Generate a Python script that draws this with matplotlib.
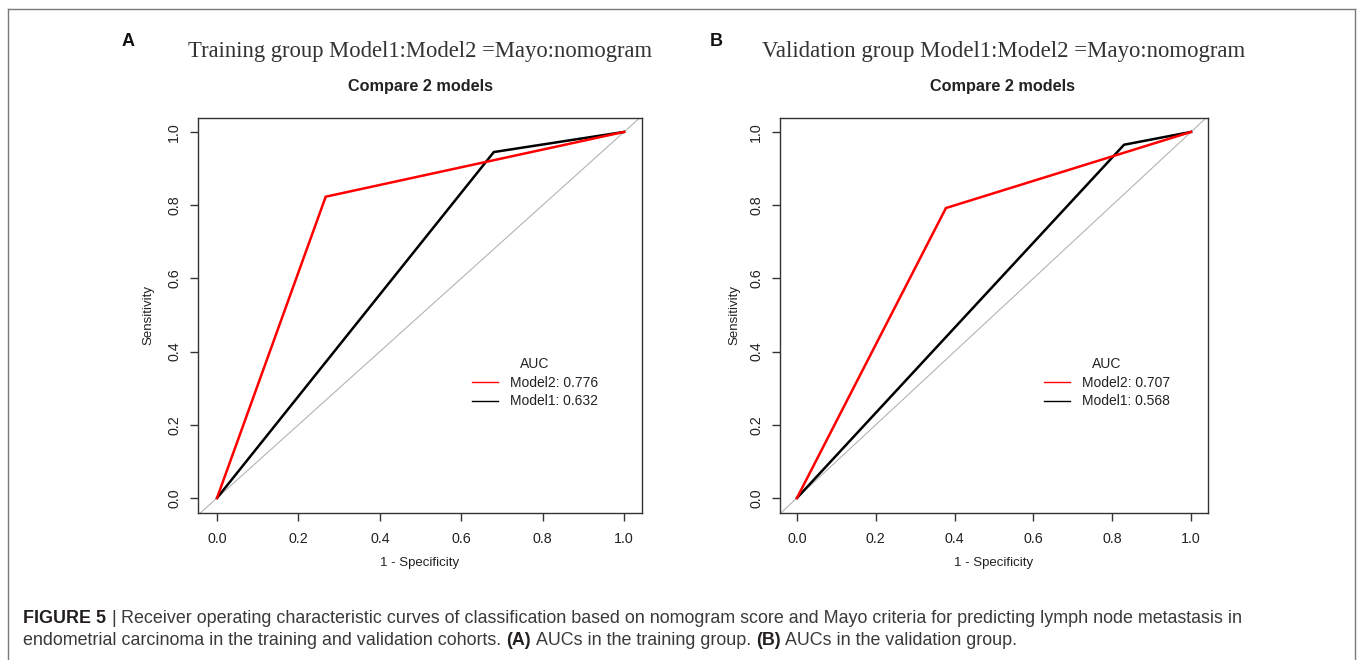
import matplotlib
matplotlib.use('Agg')
import matplotlib.pyplot as plt
from matplotlib.lines import Line2D

# ---------------- data ----------------
panel_letters = ['A', 'B']
titles = ['Training group Model1:Model2 =Mayo:nomogram',
          'Validation group Model1:Model2 =Mayo:nomogram']
subtitle = 'Compare 2 models'
model_names = ['Model2', 'Model1']
model_colors = ['#ff0000', '#000000']

train_model2_x = [0.0, 0.267, 1.0]
train_model2_y = [0.0, 0.823, 1.0]
train_model1_x = [0.0, 0.680, 1.0]
train_model1_y = [0.0, 0.945, 1.0]

valid_model2_x = [0.0, 0.378, 1.0]
valid_model2_y = [0.0, 0.792, 1.0]
valid_model1_x = [0.0, 0.830, 1.0]
valid_model1_y = [0.0, 0.965, 1.0]

auc_train = [0.776, 0.632]
auc_valid = [0.707, 0.568]

ticks = [0.0, 0.2, 0.4, 0.6, 0.8, 1.0]
tick_labels = ['0.0', '0.2', '0.4', '0.6', '0.8', '1.0']
xlabel = '1 - Specificity'
ylabel = 'Sensitivity'

caption_line1 = [('FIGURE 5', 'bold'), ('|', 'normal'),
                 ('Receiver operating characteristic curves of classification based on nomogram score and Mayo criteria for predicting lymph node metastasis in', 'normal')]
caption_line2 = [('endometrial carcinoma in the training and validation cohorts.', 'normal'),
                 ('(A)', 'bold'), ('AUCs in the training group.', 'normal'),
                 ('(B)', 'bold'), ('AUCs in the validation group.', 'normal')]

# ---------------- figure ----------------
W, H = 1357, 660
fig = plt.figure(figsize=(W / 100, H / 100), dpi=100)
plt.rcParams['font.family'] = ['Liberation Sans', 'DejaVu Sans']
TXT = '#222222'

def fx(px):
    return px / W

def fy(py):
    return 1 - py / H

# outer border
for (x0, y0, x1, y1) in [(8, 9, 1355, 9), (8, 9, 8, 660), (1355, 9, 1355, 660)]:
    fig.add_artist(Line2D([fx(x0), fx(x1)], [fy(y0), fy(y1)], color='#7a7a7a', lw=1.0,
                          transform=fig.transFigure))

panels = [
    dict(rect=(198, 118, 642, 513), xlim=(-0.0467, 1.044),
         curves=[(train_model2_x, train_model2_y), (train_model1_x, train_model1_y)],
         aucs=auc_train, title_x=420, sub_x=420, letter_x=128, leg=(472, 357), ylab_x=148),
    dict(rect=(780, 118, 1208, 513), xlim=(-0.043, 1.043),
         curves=[(valid_model2_x, valid_model2_y), (valid_model1_x, valid_model1_y)],
         aucs=auc_valid, title_x=1004, sub_x=1003, letter_x=716, leg=(1044, 357), ylab_x=734),
]

renderer = fig.canvas.get_renderer()

def fit_text(t, target_w):
    w = t.get_window_extent(renderer).width
    t.set_fontsize(t.get_fontsize() * target_w / w)

for i, p in enumerate(panels):
    l, t, r, b = p['rect']
    ax = fig.add_axes([fx(l), fy(b), fx(r - l), (b - t) / H])
    ax.set_xlim(*p['xlim'])
    ax.set_ylim(-0.041, 1.038)
    ax.axline((0, 0), (1, 1), color='#b4b4b4', lw=0.8, zorder=1)
    handles = []
    for (xs, ys), c, name, auc in zip(p['curves'], model_colors, model_names, p['aucs']):
        ax.plot(xs, ys, color=c, lw=1.8, zorder=3 if c != '#000000' else 2,
                solid_joinstyle='miter')
        handles.append(Line2D([], [], color=c, lw=1.0, label=f'{name}: {auc:.3f}'))
    for s in ax.spines.values():
        s.set_color('#333333')
        s.set_linewidth(1.0)
    ax.set_xticks(ticks)
    ax.set_xticklabels(tick_labels)
    ax.set_yticks(ticks)
    ax.set_yticklabels(tick_labels, rotation=90, va='center')
    ax.tick_params(axis='both', length=5.5, width=1.0, color='#333333', labelsize=10.3,
                   labelcolor=TXT)
    ax.tick_params(axis='x', pad=8)
    ax.tick_params(axis='y', pad=6.5)
    ax.set_xlabel(xlabel, fontsize=9.5, color=TXT, va='center')
    ax.xaxis.set_label_coords(0.5, (b - 563) / (b - t))
    ax.set_ylabel(ylabel, fontsize=9.5, color=TXT, va='center')
    ax.yaxis.set_label_coords((p['ylab_x'] - l) / (r - l), (b - 315) / (b - t))

    leg = ax.legend(handles=handles, title='AUC', frameon=False, fontsize=10,
                    title_fontsize=10, loc='upper left',
                    bbox_to_anchor=(fx(p['leg'][0]), fy(p['leg'][1])),
                    bbox_transform=fig.transFigure, borderpad=0, borderaxespad=0,
                    handlelength=1.9, handletextpad=0.8, labelspacing=0.34)
    for txt in leg.get_texts():
        txt.set_color(TXT)
    leg.get_title().set_color(TXT)

    # titles
    tt = fig.text(fx(p['title_x']), fy(52), titles[i], family=['Liberation Serif', 'DejaVu Serif'],
                  fontsize=16, color='#333333', ha='center', va='center')
    fit_text(tt, 465 if i == 0 else 482)
    fig.text(fx(p['sub_x']), fy(87), subtitle, fontsize=11.7, fontweight='bold',
             color=TXT, ha='center', va='center')
    fig.text(fx(p['letter_x']), fy(41), panel_letters[i], fontsize=13, fontweight='bold',
             color='#111111', ha='center', va='center')

# ---------------- caption ----------------
cap_size = 12.4

def draw_line(pieces, x0, baseline, size):
    x = x0
    arts = []
    for k, (s, wgt) in enumerate(pieces):
        col = '#231f20' if wgt == 'bold' else '#3a3a3a'
        t = fig.text(fx(x), fy(baseline), s, fontsize=size, fontweight=wgt, color=col,
                     ha='left', va='baseline')
        arts.append(t)
        w = t.get_window_extent(renderer).width
        x += w + 0.28 * size * 100 / 72
    return arts, x

arts, xend = draw_line(caption_line1, 23, 623, cap_size)
total = arts[-1].get_window_extent(renderer).x1 - arts[0].get_window_extent(renderer).x0
scale = (1240 - 23) / total
for a in arts:
    a.remove()
cap_size *= scale
draw_line(caption_line1, 23, 623, cap_size)
draw_line(caption_line2, 23, 645, cap_size)

fig.savefig('out.png', dpi=100, facecolor='white')
